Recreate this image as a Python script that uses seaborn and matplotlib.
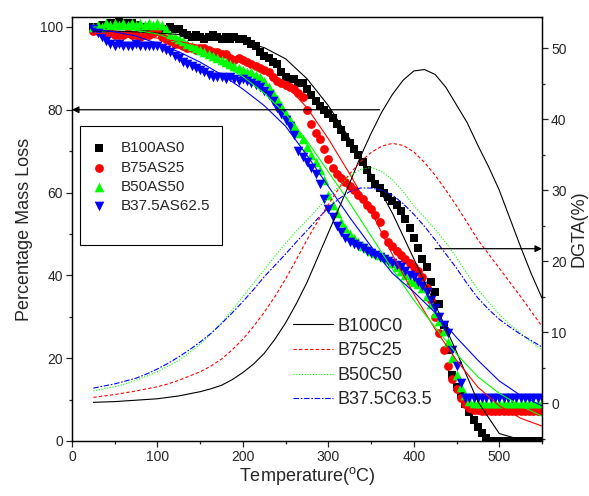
import numpy as np
import matplotlib
matplotlib.use("Agg")
import matplotlib.pyplot as plt
import seaborn as sns
from matplotlib.ticker import MultipleLocator
from matplotlib.patches import Rectangle

# temperature grid of the TGA points (every 5 C)
temps = np.arange(25, 551, 5)

# percentage mass loss
b100as0 = [100, 100, 100.5, 100.5, 101, 101, 101.5, 101, 101, 101,
           100.5, 100, 100, 99.5, 99.5, 99.5, 99.5, 99.5, 100, 99.5,
           99.5, 98.5, 98, 97.5, 98, 97.5, 97, 97.5, 98, 97.5,
           97, 97.5, 97, 97.5, 97, 97, 96.5, 96, 95.5, 94,
           93, 92.5, 91.5, 91, 89, 88, 87.5, 87.5, 86.5, 86.5,
           85, 83.5, 82, 81, 80, 79, 78, 76.5, 75, 73.5,
           72, 70.5, 69, 67.5, 65.5, 63.5, 62, 61, 60, 59,
           58, 57, 55.5, 53.5, 51.5, 49, 46.5, 44, 42, 38.5,
           36, 33, 28, 22, 16, 13, 11, 9, 7, 5,
           3.5, 2, 0.7, 0, 0, 0, 0, 0, 0, 0,
           0, 0, 0, 0, 0, 0]
b75as25 = [99, 99, 98.5, 98.5, 98.5, 98, 98, 98, 98.5, 98,
           98, 97.5, 98, 98, 98.5, 99, 97.5, 97, 96.5, 96,
           96, 95.5, 95, 95, 94.5, 95, 95, 94.5, 94, 94,
           93.5, 93.5, 92.5, 92, 92.5, 92, 91.5, 91, 90.5, 90,
           89.5, 89, 88, 87, 86.5, 86, 85.5, 85, 84, 83,
           80, 76.5, 74.5, 73, 70.5, 68, 66, 64.5, 63.5, 62.5,
           61.5, 60.5, 59.5, 58.5, 57, 56, 54.5, 53, 50, 48,
           47, 46, 45, 44, 43, 42, 41, 39.5, 37, 34,
           30, 26, 22, 18, 15, 12.5, 10.5, 9, 8, 7.5,
           7.5, 7.3, 7.3, 7.3, 7.3, 7.3, 7.3, 7.3, 7.3, 7.3,
           7.3, 7.3, 7.3, 7.3, 7.3, 7.3]
b50as50 = [100, 100.5, 100, 101, 100.5, 101, 100.5, 101, 100.5, 101,
           100.5, 101, 100.5, 101, 100.5, 101, 100.5, 99.5, 98, 97.5,
           97, 96.5, 96, 95.5, 95, 94.5, 94, 93.5, 93, 92.5,
           92, 91.5, 91, 90.5, 90, 89.5, 89, 89, 88.5, 88,
           87, 85.5, 84, 82.5, 81, 79, 77.5, 76, 74.5, 73,
           71, 69, 67.5, 65.5, 63, 59.5, 57, 55, 53, 51.5,
           50, 49, 48, 47, 46.5, 46, 45.5, 45, 44.5, 44,
           43, 42, 41, 40, 39, 38.5, 38, 37, 35, 33,
           31, 29, 26.5, 24, 20, 16, 13, 11, 9.7, 9.2,
           9.2, 9.2, 9.2, 9.2, 9.2, 9.2, 9.2, 9.2, 9.2, 9.2,
           9.2, 9.2, 9.2, 9.2, 9.2, 9.2]
b375as625 = [99.5, 98.5, 97.5, 96.5, 96, 95.5, 96, 95.5, 95.5, 95.5,
             96, 95.5, 95.5, 95.5, 95.5, 95.5, 95, 94.5, 94, 93,
             92.5, 91.5, 91, 90.5, 90, 89.5, 89, 88.5, 88, 88,
             88, 87.5, 88, 87.5, 87, 87.5, 87, 86.5, 86, 85.5,
             84.5, 83.5, 82, 80.5, 79, 77.5, 76, 74, 70, 68.5,
             67.5, 66, 64.5, 62, 58.5, 56, 54, 52, 50.5, 49,
             48, 47.5, 47, 46.5, 46, 45.5, 45, 44.5, 44, 43.5,
             43, 42.5, 42, 41, 40, 39.5, 38.5, 37.5, 36, 34,
             32, 30, 28, 26, 22, 18, 14, 10.5, 10.4, 10.4,
             10.4, 10.4, 10.4, 10.4, 10.4, 10.4, 10.4, 10.4, 10.4, 10.4,
             10.4, 10.4, 10.4, 10.4, 10.4, 10.4]

# fitted curves (every 25 C)
fit_temps = np.arange(25, 551, 25)
fit_b100 = [99, 99, 98.8, 98.5, 98.2, 97.8, 97.2, 96.4, 95, 92.3, 87.5,
            81, 73, 64.5, 55, 44, 33, 21.5, 9.5, 1.8, 0.3, 0.3]
fit_b75 = [98.5, 98.3, 97.9, 97.3, 96.5, 95.5, 94, 92, 89.5, 86, 80.5,
           73, 64.5, 55.5, 45, 35.5, 27, 19.5, 13, 8.5, 5.5, 3.6]
fit_b50 = [100, 99.8, 99.2, 98.3, 96.5, 93.7, 91, 88, 84, 79, 72.5,
           65, 57.5, 49.5, 41.5, 34, 27.5, 21, 15.5, 11.5, 8.5, 6]
fit_b375 = [99.5, 98.8, 97.8, 96, 94, 91.5, 88.5, 85, 81, 76, 69,
            61.5, 54, 47, 40.5, 36, 31, 25, 19.5, 14.5, 11, 8.5]

# DGTA curves (every 12.5 C)
dgta_temps = np.arange(25, 551, 12.5)
dgta_b100c0 = [0.1, 0.15, 0.2, 0.3, 0.4, 0.5, 0.6, 0.8, 1.0, 1.3, 1.6, 2.0,
               2.5, 3.3, 4.3, 5.5, 7, 9, 11.3, 14, 17, 20.5, 24, 27.5,
               31, 34.7, 38, 41, 43.5, 45.5, 46.8, 47, 46.3, 44.5, 42, 39.5,
               36.3, 33.3, 30, 26, 22, 18.2, 14.8]
dgta_b75c25 = [0.8, 1.0, 1.2, 1.45, 1.7, 2.0, 2.3, 2.7, 3.2, 3.8, 4.4, 5.2,
               6.2, 7.5, 9, 10.8, 12.8, 15, 17.5, 20.2, 23, 25.6, 28, 30.3,
               32.3, 34, 35.3, 36.2, 36.6, 36.3, 35.4, 33.9, 32.1, 30, 27.8, 25.4,
               23, 21, 19, 17, 15, 12.9, 10.8]
dgta_b50c50 = [1.7, 2.0, 2.3, 2.7, 3.2, 3.8, 4.4, 5.2, 6, 7.1, 8.3, 9.7,
               11.3, 13.1, 15, 16.9, 18.8, 20.7, 22.5, 24.2, 25.8, 27.4, 29, 30.6,
               32, 32.9, 33.2, 32.6, 31.5, 29.8, 27.8, 26.2, 24.5, 22.6, 20.5, 18.2,
               16, 14.2, 12.5, 11.1, 9.8, 8.6, 7.5]
dgta_b375c635 = [2.1, 2.4, 2.7, 3.1, 3.5, 4.1, 4.8, 5.6, 6.5, 7.5, 8.6, 9.8,
                 11.2, 12.7, 14.3, 16, 17.8, 19.4, 21, 22.7, 24.3, 26, 27.5, 28.8,
                 29.8, 30.3, 30.3, 30, 29.3, 28.1, 26.6, 24.9, 23, 21, 19, 16.8,
                 14.8, 13.2, 11.8, 10.7, 9.7, 8.8, 7.9]

tga_names = ["B100AS0", "B75AS25", "B50AS50", "B37.5AS62.5"]
dgta_names = ["B100C0", "B75C25", "B50C50", "B37.5C63.5"]
colors = ["black", "red", "#00ff00", "blue"]

sns.set_style("ticks")
plt.rcParams['font.family'] = ['Liberation Sans', 'DejaVu Sans']
plt.rcParams['mathtext.fontset'] = 'custom'
plt.rcParams['mathtext.rm'] = 'Liberation Sans'

fig = plt.figure(figsize=(5.89, 4.96), dpi=100)
ax = fig.add_axes([0.1222, 0.1109, 0.798, 0.8548])
ax2 = ax.twinx()

# TGA points
markers = ["s", "o", "^", "v"]
sizes = [36, 40, 48, 48]
tga_data = [b100as0, b75as25, b50as50, b375as625]
for vals, name, c, m, s in zip(tga_data, tga_names, colors, markers, sizes):
    sns.scatterplot(x=temps, y=vals, marker=m, color=c, s=s, linewidth=0,
                    label=name, ax=ax, zorder=2)

# fitted lines
for vals, c in zip([fit_b100, fit_b75, fit_b50, fit_b375], colors):
    sns.lineplot(x=fit_temps, y=vals, color=c, lw=0.8, ax=ax, zorder=3)

# DGTA curves on the right axis
dashes = [None, (3, 2), (1, 1.5), (5, 1.5, 1.5, 1.5)]
for vals, name, c, d in zip([dgta_b100c0, dgta_b75c25, dgta_b50c50, dgta_b375c635],
                            dgta_names, colors, dashes):
    sns.lineplot(x=dgta_temps, y=vals, color=c, lw=0.8, ax=ax2, label=name)
    if d is not None:
        ax2.lines[-1].set_dashes(d)

ax.set_xlim(0, 550)
ax.set_ylim(0, 102.4)
ax2.set_ylim(-5.35, 54.4)

ax.xaxis.set_major_locator(MultipleLocator(100))
ax.xaxis.set_minor_locator(MultipleLocator(50))
ax.yaxis.set_major_locator(MultipleLocator(20))
ax.yaxis.set_minor_locator(MultipleLocator(10))
ax2.yaxis.set_major_locator(MultipleLocator(10))
ax2.yaxis.set_minor_locator(MultipleLocator(5))

for a in (ax, ax2):
    a.tick_params(which='major', direction='out', length=4, width=0.9,
                  labelsize=10, pad=2.5)
    a.tick_params(which='minor', direction='out', length=2.5, width=0.9)
    for sp in a.spines.values():
        sp.set_visible(True)
        sp.set_linewidth(0.9)
        sp.set_color('black')
ax.tick_params(top=False, which='both')

ax.set_xlabel(r'Temperature($^{\rm o}$C)', fontsize=13, labelpad=1)
ax.set_ylabel('Percentage Mass Loss', fontsize=13, labelpad=5)
ax2.set_ylabel('DGTA(%)', fontsize=13, labelpad=3)

# arrows pointing to each axis
ax.annotate('', xy=(0, 80), xytext=(360, 80),
            arrowprops=dict(arrowstyle='-|>', color='black', lw=0.9,
                            mutation_scale=10, shrinkA=0, shrinkB=0))
ax2.annotate('', xy=(550, 21.75), xytext=(425, 21.75),
             arrowprops=dict(arrowstyle='-|>', color='black', lw=0.9,
                             mutation_scale=10, shrinkA=0, shrinkB=0))

# legends
h1, l1 = ax.get_legend_handles_labels()
ax.legend(h1, l1, loc='upper left', bbox_to_anchor=(0.025, 0.725),
          frameon=False, fontsize=11, handlelength=1.0, handletextpad=0.9,
          labelspacing=0.35, borderpad=0)
ax.add_patch(Rectangle((0.017, 0.462), 0.302, 0.281, transform=ax.transAxes,
                       fill=False, edgecolor='black', lw=0.8, zorder=5))
h2, l2 = ax2.get_legend_handles_labels()
ax2.legend(h2, l2, loc='upper left', bbox_to_anchor=(0.452, 0.312),
           frameon=False, fontsize=13, handlelength=2.2, handletextpad=0.25,
           labelspacing=0.42, borderpad=0)

fig.savefig("out.png", dpi=100)
